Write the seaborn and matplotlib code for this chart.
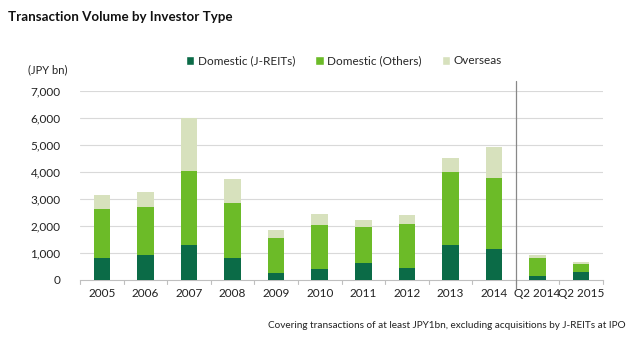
import matplotlib
matplotlib.use("Agg")
import matplotlib.pyplot as plt
import seaborn as sns
import pandas as pd
import numpy as np
from matplotlib.patches import Patch

categories = ["2005", "2006", "2007", "2008", "2009", "2010", "2011", "2012",
              "2013", "2014", "Q2 2014", "Q2 2015"]
domestic_jreits = [830, 930, 1310, 800, 250, 420, 640, 460, 1310, 1160, 160, 310]
domestic_others = [1790, 1770, 2740, 2040, 1290, 1630, 1310, 1630, 2680, 2630, 640, 270]
overseas = [540, 560, 1950, 910, 330, 410, 280, 330, 540, 1140, 110, 70]
yticks = [0, 1000, 2000, 3000, 4000, 5000, 6000, 7000]

c_dark = "#0b6b47"
c_mid = "#6cbb28"
c_light = "#d7e1bd"

sns.set_theme(style="white")
plt.rcParams['font.family'] = ['Lato', 'DejaVu Sans']

df = pd.DataFrame({
    "cat": categories,
    "j": domestic_jreits,
    "o": domestic_others,
    "s": overseas,
})
df["jo"] = df["j"] + df["o"]
df["tot"] = df["jo"] + df["s"]

fig = plt.figure(figsize=(6.34, 3.37), dpi=100)
ax = fig.add_axes([80/634, 1-280/337, (603-80)/634, (280-91)/337])

w = 0.38
sns.barplot(data=df, x="cat", y="tot", color=c_light, width=w, ax=ax, saturation=1, edgecolor="none", zorder=3)
sns.barplot(data=df, x="cat", y="jo", color=c_mid, width=w, ax=ax, saturation=1, edgecolor="none", zorder=3)
sns.barplot(data=df, x="cat", y="j", color=c_dark, width=w, ax=ax, saturation=1, edgecolor="none", zorder=3)

ax.set_ylim(0, 7000)
ax.set_xlim(-0.5, len(categories) - 0.5)
ax.set_yticks(yticks)
ax.set_yticklabels([f"{v:,}" for v in yticks], fontsize=8.5, color="#222222")
ax.set_xlabel("")
ax.set_ylabel("")
for v in yticks[1:]:
    ax.axhline(v, color="#d9d9d9", lw=0.8, zorder=1)

for s in ["top", "right", "left"]:
    ax.spines[s].set_visible(False)
ax.spines["bottom"].set_color("#bfbfbf")
ax.spines["bottom"].set_linewidth(0.8)

ax.set_xticks(range(len(categories)))
ax.set_xticklabels(categories, fontsize=8.5, color="#222222")
ax.tick_params(axis="x", length=0, pad=6)
ax.tick_params(axis="y", length=0, pad=14)
# boundary tick marks
bounds = np.arange(-0.5, len(categories), 1.0)
for b in bounds:
    ax.plot([b, b], [0, -0.022], transform=ax.get_xaxis_transform(), color="#bfbfbf",
            lw=0.8, clip_on=False)

# separator line between annual and quarterly
ax.plot([9.5, 9.5], [-0.05, 1.055], transform=ax.get_xaxis_transform(), color="#888888",
        lw=0.9, clip_on=False, zorder=4)

fig.text(8/634, 1-17/337, "Transaction Volume by Investor Type", fontsize=9.6,
         fontweight="bold", ha="left", va="center", color="#111111")
fig.text(68/634, 1-70/337, "(JPY bn)", fontsize=8, ha="right", va="center", color="#222222")
fig.text(626/634, 1-325/337,
         "Covering transactions of at least JPY1bn, excluding acquisitions by J-REITs at IPO",
         fontsize=7.2, ha="right", va="center", color="#222222")

handles = [Patch(facecolor=c_dark, label="Domestic (J-REITs)"),
           Patch(facecolor=c_mid, label="Domestic (Others)"),
           Patch(facecolor=c_light, label="Overseas")]
fig.legend(handles=handles, loc="center", bbox_to_anchor=(344/634, 1-61/337), ncol=3,
           frameon=False, fontsize=8.5, handlelength=0.7, handleheight=0.7,
           handletextpad=0.3, columnspacing=1.7)

fig.savefig("out.png", dpi=100)
